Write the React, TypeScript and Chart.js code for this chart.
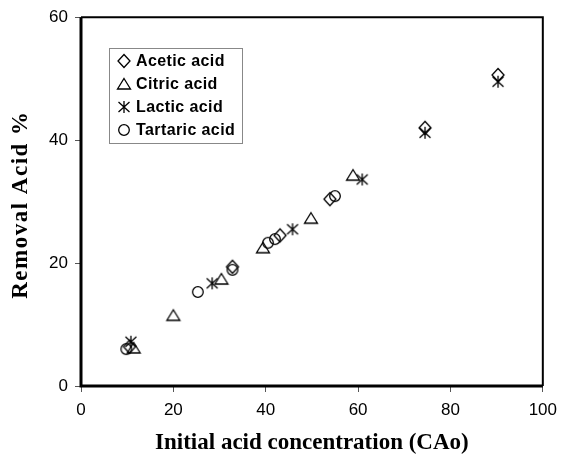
import { useEffect, useRef } from "react";
import { Chart, registerables } from "chart.js";
Chart.register(...registerables);

const seriesNames = ["Acetic acid", "Citric acid", "Lactic acid", "Tartaric acid"];
const aceticX = [10.5, 32.8, 43.1, 53.9, 74.5, 90.3];
const aceticY = [6.4, 19.4, 24.5, 30.4, 42.0, 50.6];
const citricX = [11.4, 20.0, 30.4, 39.4, 49.8, 58.9];
const citricY = [6.2, 11.5, 17.4, 22.5, 27.3, 34.3];
const lacticX = [10.8, 28.4, 45.8, 60.9, 74.5, 90.3];
const lacticY = [7.2, 16.7, 25.5, 33.6, 41.2, 49.5];
const tartaricX = [9.8, 25.3, 32.8, 40.5, 42.0, 55.0];
const tartaricY = [6.0, 15.3, 18.9, 23.3, 23.9, 30.9];
const xTicks = [0, 20, 40, 60, 80, 100];
const yTicks = [0, 20, 40, 60];
const xTitle = "Initial acid concentration (CAo)";
const yTitle = "Removal Acid %";

function makeMarker(kind: string): HTMLCanvasElement {
  const s = 18;
  const c = document.createElement("canvas");
  c.width = s;
  c.height = s;
  const g = c.getContext("2d")!;
  g.strokeStyle = "#000";
  g.lineWidth = 1.3;
  const m = s / 2;
  g.beginPath();
  if (kind === "diamond") {
    g.moveTo(m, m - 6.5);
    g.lineTo(m + 6, m);
    g.lineTo(m, m + 6.5);
    g.lineTo(m - 6, m);
    g.closePath();
  } else if (kind === "triangle") {
    g.moveTo(m, m - 5.5);
    g.lineTo(m + 6.5, m + 5);
    g.lineTo(m - 6.5, m + 5);
    g.closePath();
  } else if (kind === "circle") {
    g.arc(m, m, 5.3, 0, Math.PI * 2);
  } else {
    g.moveTo(m, m - 6);
    g.lineTo(m, m + 6);
    g.moveTo(m - 5.5, m - 5);
    g.lineTo(m + 5.5, m + 5);
    g.moveTo(m + 5.5, m - 5);
    g.lineTo(m - 5.5, m + 5);
  }
  g.stroke();
  return c;
}

function pts(xs: number[], ys: number[]) {
  return xs.map((x, i) => ({ x, y: ys[i] }));
}

export default function App() {
  const ref = useRef<HTMLCanvasElement>(null);
  useEffect(() => {
    const markers = [makeMarker("diamond"), makeMarker("triangle"), makeMarker("asterisk"), makeMarker("circle")];
    const data = [pts(aceticX, aceticY), pts(citricX, citricY), pts(lacticX, lacticY), pts(tartaricX, tartaricY)];
    const frame = {
      id: "frame",
      afterDatasetsDraw(chart: any) {
        const { ctx, chartArea: a } = chart;
        ctx.save();
        ctx.strokeStyle = "#000";
        ctx.lineWidth = 2;
        ctx.beginPath();
        ctx.moveTo(a.left, a.top);
        ctx.lineTo(a.right, a.top);
        ctx.lineTo(a.right, a.bottom);
        ctx.stroke();
        ctx.lineWidth = 3;
        ctx.beginPath();
        ctx.moveTo(a.left, a.top);
        ctx.lineTo(a.left, a.bottom);
        ctx.lineTo(a.right, a.bottom);
        ctx.stroke();
        // legend
        const bx = 109.5, by = 48.5, bw = 133, bh = 95;
        ctx.fillStyle = "#fff";
        ctx.fillRect(bx, by, bw, bh);
        ctx.lineWidth = 1;
        ctx.strokeStyle = "#888";
        ctx.strokeRect(bx, by, bw, bh);
        ctx.fillStyle = "#000";
        ctx.font = "bold 16px 'Liberation Sans', Arial, sans-serif";
        (ctx as any).letterSpacing = "0.4px";
        ctx.textBaseline = "middle";
        ctx.textAlign = "left";
        seriesNames.forEach((name, i) => {
          const ry = 61 + i * 23;
          ctx.drawImage(markers[i], 124 - 9, ry - 9);
          ctx.fillText(name, 136, ry + 1);
        });
        // axis titles
        ctx.font = "bold 23px 'Liberation Serif', 'Times New Roman', serif";
        ctx.textAlign = "center";
        (ctx as any).letterSpacing = "0px";
        ctx.fillText(xTitle, (a.left + a.right) / 2, 443);
        ctx.translate(21, (a.top + a.bottom) / 2 + 3);
        ctx.rotate(-Math.PI / 2);
        ctx.font = "bold 23px 'Liberation Serif', 'Times New Roman', serif";
        (ctx as any).letterSpacing = "1.5px";
        ctx.fillText(yTitle, 0, 0);
        ctx.restore();
      },
    };
    const chart = new Chart(ref.current!, {
      type: "scatter",
      data: {
        datasets: seriesNames.map((name, i) => ({
          label: name,
          data: data[i],
          pointStyle: markers[i] as any,
          pointRadius: 6,
          borderColor: "#000",
          backgroundColor: "transparent",
        })),
      },
      options: {
        animation: false,
        responsive: false,
        layout: { padding: { top: 17, right: 18.5, bottom: 0, left: 0 } },
        plugins: { legend: { display: false }, tooltip: { enabled: false } },
        scales: {
          x: {
            type: "linear",
            min: 0,
            max: 100,
            afterFit: (s: any) => { s.height = 71; },
            afterBuildTicks: (s: any) => { s.ticks = xTicks.map((v) => ({ value: v })); },
            grid: { drawOnChartArea: false, drawTicks: true, tickLength: 6, color: "#555" },
            border: { display: false },
            ticks: { color: "#000", padding: 8, font: { family: "'Liberation Sans', Arial, sans-serif", size: 17 } },
          },
          y: {
            type: "linear",
            min: 0,
            max: 60,
            afterFit: (s: any) => { s.width = 81; },
            afterBuildTicks: (s: any) => { s.ticks = yTicks.map((v) => ({ value: v })); },
            grid: { drawOnChartArea: false, drawTicks: true, tickLength: 6, color: "#555" },
            border: { display: false },
            ticks: { color: "#000", padding: 7, font: { family: "'Liberation Sans', Arial, sans-serif", size: 17 } },
          },
        },
      },
      plugins: [frame],
    } as any);
    return () => chart.destroy();
  }, []);
  return (
    <div style={{ position: "absolute", left: 0, top: 0, width: 565, height: 457, background: "#fff" }}>
      <canvas ref={ref} width={565} height={457} style={{ width: 565, height: 457 }} />
    </div>
  );
}
